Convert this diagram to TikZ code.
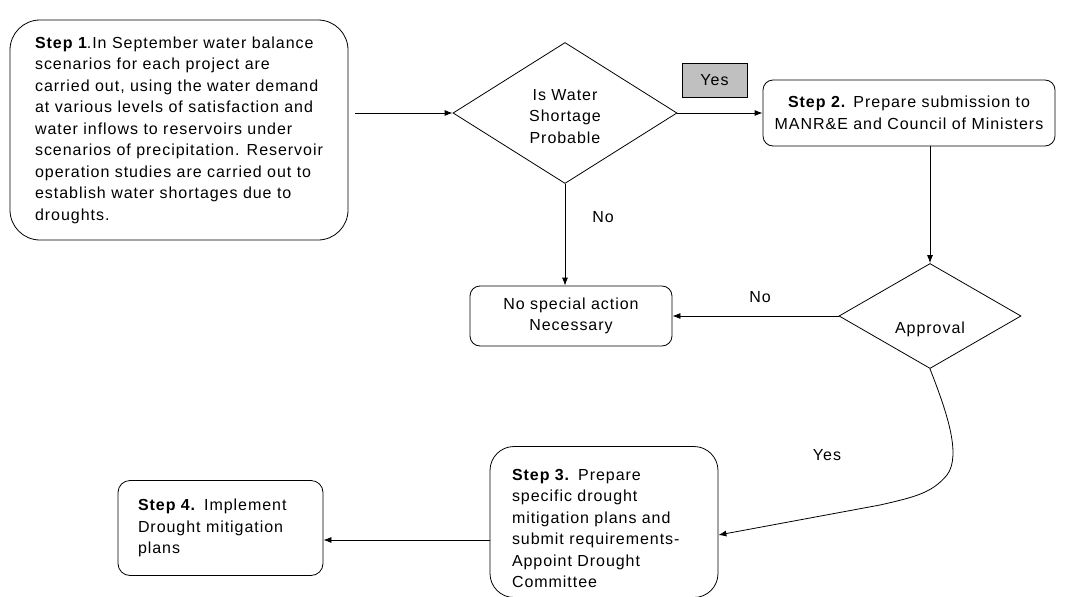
\documentclass[tikz,border=0pt]{standalone}
\usepackage{fontspec}
\setmainfont{Liberation Sans}[LetterSpace=6]
\usetikzlibrary{shapes.geometric,arrows.meta,calc}
\definecolor{yesgray}{HTML}{C0C0C0}
\begin{document}
\begin{tikzpicture}[x=1pt,y=-1pt,
  every node/.style={font=\fontsize{16}{21.5}\selectfont},
  box/.style={draw, line width=0.8pt, inner ysep=0pt},
  dia/.style={draw, diamond, inner sep=0pt, line width=0.8pt},
  arr/.style={line width=0.8pt, -{Latex[length=8pt,width=6pt]}}]
\useasboundingbox (0,0) rectangle (1090,597);

\node[box, rounded corners=30pt, minimum width=338pt, minimum height=220pt, align=left] (s1) at (179,130)
 {\textbf{Step 1}.In September water balance\\
  scenarios for each project are\\
  carried out, using the water demand\\
  at various levels of satisfaction and\\
  water inflows to reservoirs under\\
  scenarios of precipitation. Reservoir\\
  operation studies are carried out to\\
  establish water shortages due to\\
  droughts.};

\node[dia, minimum width=224pt, minimum height=141pt, aspect=1.6, align=center] (d1) at (565,113) {\rule{0pt}{17.5pt}Is Water\\Shortage\\Probable};

\node[draw, fill=yesgray, line width=0.6pt, minimum width=65pt, minimum height=34pt, inner sep=0pt] (yes) at (714.5,80) {Yes};

\node[box, rounded corners=10pt, minimum width=292pt, minimum height=66pt, align=center] (s2) at (909,113)
 {\textbf{Step 2.} Prepare submission to\\MANR\&E and Council of Ministers};

\node[dia, minimum width=182pt, minimum height=105pt] (d2) at (930,316) {};
\node (appr) at (930,329) {Approval};

\node[box, rounded corners=10pt, minimum width=202pt, minimum height=60pt, align=center] (ns) at (571,316)
 {No special action\\Necessary};

\node[box, rounded corners=24pt, minimum width=228pt, minimum height=151pt, text width=184pt, inner xsep=22pt, align=left] (s3) at (604,522)
 {\rule{0pt}{24pt}\textbf{Step 3.} Prepare\\
  specific drought\\
  mitigation plans and\\
  submit requirements-\\
  Appoint Drought\\
  Committee};

\node[box, rounded corners=12pt, minimum width=205pt, minimum height=95pt, text width=165pt, inner xsep=20pt, align=left] (s4) at (220.5,528)
 {\textbf{Step 4.} Implement\\
  Drought mitigation\\
  plans};

\node (lno1) at (603,217) {No};
\node (lno2) at (760,297) {No};
\node (lyes) at (827,455) {Yes};

\draw[arr] ($(s1.east |- d1.west)+(7,0)$) -- (d1.west);
\draw[arr] (d1.east) -- (s2.west);
\draw[arr] (d2.north |- s2.south) -- (d2.north);
\draw[arr] (d2.west) -- (ns.east);
\draw[arr] (d1.south) -- (d1.south |- ns.north);
\draw[arr] (d2.south) .. controls (946,410) and (962,455) .. (947,475)
  .. controls (932,493) and (915,497) .. (880,505) -- ($(s3.east)+(0,13)$);
\draw[arr] ($(s3.west)+(0,18)$) -- ($(s4.east |- s3.west)+(0,18)$);
\end{tikzpicture}
\end{document}
